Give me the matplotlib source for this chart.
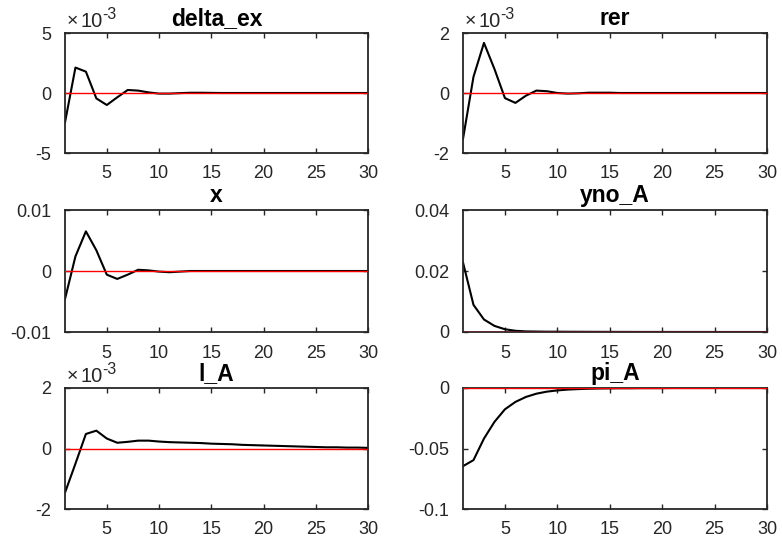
import matplotlib
matplotlib.use("Agg")
import matplotlib.pyplot as plt
import matplotlib.transforms as mtransforms
from matplotlib.ticker import FuncFormatter
import numpy as np

periods = list(range(1, 31))

delta_ex = [-2.45e-3, 2.12e-3, 1.78e-3, -0.45e-3, -1.0e-3, -0.36e-3, 0.25e-3, 0.2e-3, 0.05e-3, -0.05e-3,
            -0.05e-3, -0.01e-3, 0.02e-3, 0.02e-3, 0.01e-3, 0.0, 0.0, 0.0, 0.0, 0.0,
            0.0, 0.0, 0.0, 0.0, 0.0, 0.0, 0.0, 0.0, 0.0, 0.0]
rer = [-1.53e-3, 0.54e-3, 1.67e-3, 0.8e-3, -0.17e-3, -0.33e-3, -0.09e-3, 0.08e-3, 0.06e-3, 0.0,
       -0.02e-3, -0.01e-3, 0.01e-3, 0.01e-3, 0.01e-3, 0.0, 0.0, 0.0, 0.0, 0.0,
       0.0, 0.0, 0.0, 0.0, 0.0, 0.0, 0.0, 0.0, 0.0, 0.0]
x_gap = [-0.0046, 0.0024, 0.0065, 0.0034, -0.0006, -0.0013, -0.0006, 0.0002, 0.0001, -0.0001,
         -0.0002, -0.0001, 0.0, 0.0, 0.0, 0.0, 0.0, 0.0, 0.0, 0.0,
         0.0, 0.0, 0.0, 0.0, 0.0, 0.0, 0.0, 0.0, 0.0, 0.0]
yno_A = [0.0228, 0.0089, 0.0041, 0.0020, 0.0009, 0.0004, 0.0002, 0.00015, 0.0001, 0.0001,
         0.00008, 0.00007, 0.00006, 0.00005, 0.00004, 0.00003, 0.00003, 0.00002, 0.00002, 0.00002,
         0.00001, 0.00001, 0.00001, 0.00001, 0.00001, 0.0, 0.0, 0.0, 0.0, 0.0]
l_A = [-1.46e-3, -0.5e-3, 0.48e-3, 0.59e-3, 0.33e-3, 0.19e-3, 0.22e-3, 0.26e-3, 0.26e-3, 0.23e-3,
       0.21e-3, 0.2e-3, 0.19e-3, 0.18e-3, 0.16e-3, 0.15e-3, 0.14e-3, 0.12e-3, 0.11e-3, 0.1e-3,
       0.09e-3, 0.08e-3, 0.07e-3, 0.06e-3, 0.05e-3, 0.04e-3, 0.04e-3, 0.03e-3, 0.03e-3, 0.02e-3]
pi_A = [-0.0646, -0.0596, -0.0418, -0.0280, -0.0176, -0.0115, -0.0074, -0.0047, -0.0030, -0.0020,
        -0.0013, -0.0009, -0.0006, -0.0004, -0.0003, -0.0002, -0.0002, -0.0001, -0.0001, -0.0001,
        0.0, 0.0, 0.0, 0.0, 0.0, 0.0, 0.0, 0.0, 0.0, 0.0]

titles = ["delta_ex", "rer", "x", "yno_A", "l_A", "pi_A"]
series = [delta_ex, rer, x_gap, yno_A, l_A, pi_A]
ylims = [(-5e-3, 5e-3), (-2e-3, 2e-3), (-0.01, 0.01), (0, 0.04), (-2e-3, 2e-3), (-0.1, 0)]
yticks = [[-5e-3, 0, 5e-3], [-2e-3, 0, 2e-3], [-0.01, 0, 0.01], [0, 0.02, 0.04], [-2e-3, 0, 2e-3], [-0.1, -0.05, 0]]
scaled = [True, True, False, False, True, False]
xticks = [5, 10, 15, 20, 25, 30]

plt.rcParams['font.family'] = ['Liberation Sans', 'DejaVu Sans']

W, H = 782, 544
DPI = 100
fig = plt.figure(figsize=(W / DPI, H / DPI), dpi=DPI)

lefts = [65, 463]
widths = [303, 304]
tops = [33, 210, 388]
heights = [120, 122, 121]
txt = '#262626'

for i, (t, s) in enumerate(zip(titles, series)):
    r, c = divmod(i, 2)
    ax = fig.add_axes([lefts[c] / W, 1 - (tops[r] + heights[r]) / H, widths[c] / W, heights[r] / H])
    ax.plot(periods, s, color='black', lw=1.5, zorder=2)
    ax.plot(periods, np.zeros(len(periods)), color='#ff0000', lw=1.0, zorder=3)
    ax.set_xlim(1, 30)
    ax.set_ylim(*ylims[i])
    ax.set_xticks(xticks)
    ax.set_yticks(yticks[i])
    if scaled[i]:
        ax.yaxis.set_major_formatter(FuncFormatter(lambda v, p: f"{v / 1e-3:g}"))
        def tr(dx, dy, ax=ax):
            return ax.transAxes + mtransforms.ScaledTranslation(dx / DPI, dy / DPI, fig.dpi_scale_trans)
        ax.text(0, 1, "\u00d7", transform=tr(2, 7), fontsize=14, ha='left', va='baseline', color=txt)
        ax.text(0, 1, "10", transform=tr(15, 6), fontsize=14.5, ha='left', va='baseline', color=txt)
        ax.text(0, 1, "-3", transform=tr(37, 14), fontsize=11.5, ha='left', va='baseline', color=txt)
    else:
        ax.yaxis.set_major_formatter(FuncFormatter(lambda v, p: f"{v:g}"))
    ax.tick_params(direction='in', top=True, right=True, labelsize=13, length=3.5,
                   width=1.0, colors=txt)
    ax.tick_params(axis='x', pad=9)
    ax.tick_params(axis='y', pad=10)
    for sp in ax.spines.values():
        sp.set_linewidth(1.3)
        sp.set_color(txt)
    ax.set_title(t, fontsize=16.5, fontweight='bold', pad=6, color='black')

fig.savefig("out.png", dpi=DPI)
